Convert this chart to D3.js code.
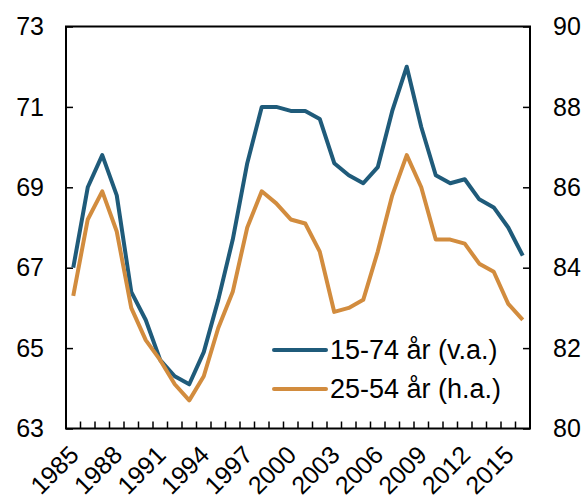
<!DOCTYPE html>
<html><head><meta charset="utf-8">
<script src="https://cdn.jsdelivr.net/npm/d3@7"></script>
<style>
html,body{margin:0;padding:0;background:#fff;}
svg{display:block;font-family:"Liberation Sans",Arial,sans-serif;}
</style></head>
<body><svg id="c" width="586" height="500"></svg>
<script>
const years = d3.range(1985, 2017);
const series1574 = [67.0,69.0,69.8,68.8,66.4,65.7,64.7,64.3,64.1,64.9,66.2,67.7,69.6,71.0,71.0,70.9,70.9,70.7,69.6,69.3,69.1,69.5,70.9,72.0,70.5,69.3,69.1,69.2,68.7,68.5,68.0,67.3];
const series2554 = [83.3,85.2,85.9,84.9,83.0,82.2,81.7,81.1,80.7,81.3,82.5,83.4,85.0,85.9,85.6,85.2,85.1,84.4,82.9,83.0,83.2,84.4,85.8,86.8,86.0,84.7,84.7,84.6,84.1,83.9,83.1,82.7];
const leftTicks = [63,65,67,69,71,73];
const rightTicks = [80,82,84,86,88,90];
const yearLabels = [1985,1988,1991,1994,1997,2000,2003,2006,2009,2012,2015];
const legendLabels = ["15-74 år (v.a.)", "25-54 år (h.a.)"];
const colors = ["#1f5b7a", "#d28c3e"];

const L = 66, R = 530, T = 26.5, B = 428.5;
const svg = d3.select("#c");
const x = d3.scaleBand().domain(years).range([L, R]).padding(0);
const yL = d3.scaleLinear().domain([63, 73]).range([B, T]);
const yR = d3.scaleLinear().domain([80, 90]).range([B, T]);
const cx = d => x(d) + x.bandwidth() / 2;

// left axis
const gl = svg.append("g").attr("transform", `translate(${L},0)`)
  .call(d3.axisRight(yL).tickValues(leftTicks).tickSize(7).tickFormat(""));
gl.select(".domain").remove();
gl.selectAll("line").attr("stroke", "#000").attr("stroke-width", 1.5);
svg.append("g").selectAll("text").data(leftTicks).join("text")
  .attr("x", 44).attr("y", d => yL(d)).attr("dy", "0.35em")
  .attr("text-anchor", "end").attr("font-size", 25).text(d => d);

// right axis
const gr = svg.append("g").attr("transform", `translate(${R},0)`)
  .call(d3.axisLeft(yR).tickValues(rightTicks).tickSize(7).tickFormat(""));
gr.select(".domain").remove();
gr.selectAll("line").attr("stroke", "#000").attr("stroke-width", 1.5);
svg.append("g").selectAll("text").data(rightTicks).join("text")
  .attr("x", 553).attr("y", d => yR(d)).attr("dy", "0.35em")
  .attr("text-anchor", "start").attr("font-size", 25).text(d => d);

// bottom ticks at band boundaries
svg.append("g").selectAll("line").data(years.slice(1)).join("line")
  .attr("x1", d => x(d)).attr("x2", d => x(d))
  .attr("y1", B).attr("y2", B - 7)
  .attr("stroke", "#000").attr("stroke-width", 1.5);

// year labels
svg.append("g").selectAll("text").data(yearLabels).join("text")
  .attr("transform", d => `translate(${cx(d) + 7},${B + 28}) rotate(-45)`)
  .attr("text-anchor", "end").attr("font-size", 25).text(d => d);

// lines
const line1 = d3.line().x((d, i) => cx(years[i])).y(d => yL(d));
const line2 = d3.line().x((d, i) => cx(years[i])).y(d => yR(d));
svg.append("path").datum(series1574).attr("d", line1)
  .attr("fill", "none").attr("stroke", colors[0]).attr("stroke-width", 4).attr("stroke-linejoin", "round");
svg.append("path").datum(series2554).attr("d", line2)
  .attr("fill", "none").attr("stroke", colors[1]).attr("stroke-width", 4).attr("stroke-linejoin", "round");

// frame
svg.append("rect").attr("x", L).attr("y", T).attr("width", R - L).attr("height", B - T)
  .attr("fill", "none").attr("stroke", "#000").attr("stroke-width", 2);

// legend
const lg = svg.append("g");
legendLabels.forEach((t, i) => {
  const yy = 350 + i * 39;
  lg.append("line").attr("x1", 274).attr("x2", 326).attr("y1", yy).attr("y2", yy)
    .attr("stroke", colors[i]).attr("stroke-width", 4).attr("stroke-linecap", "round");
  lg.append("text").attr("x", 330).attr("y", yy).attr("dy", "0.35em")
    .attr("font-size", 27).text(t);
});
</script></body></html>
